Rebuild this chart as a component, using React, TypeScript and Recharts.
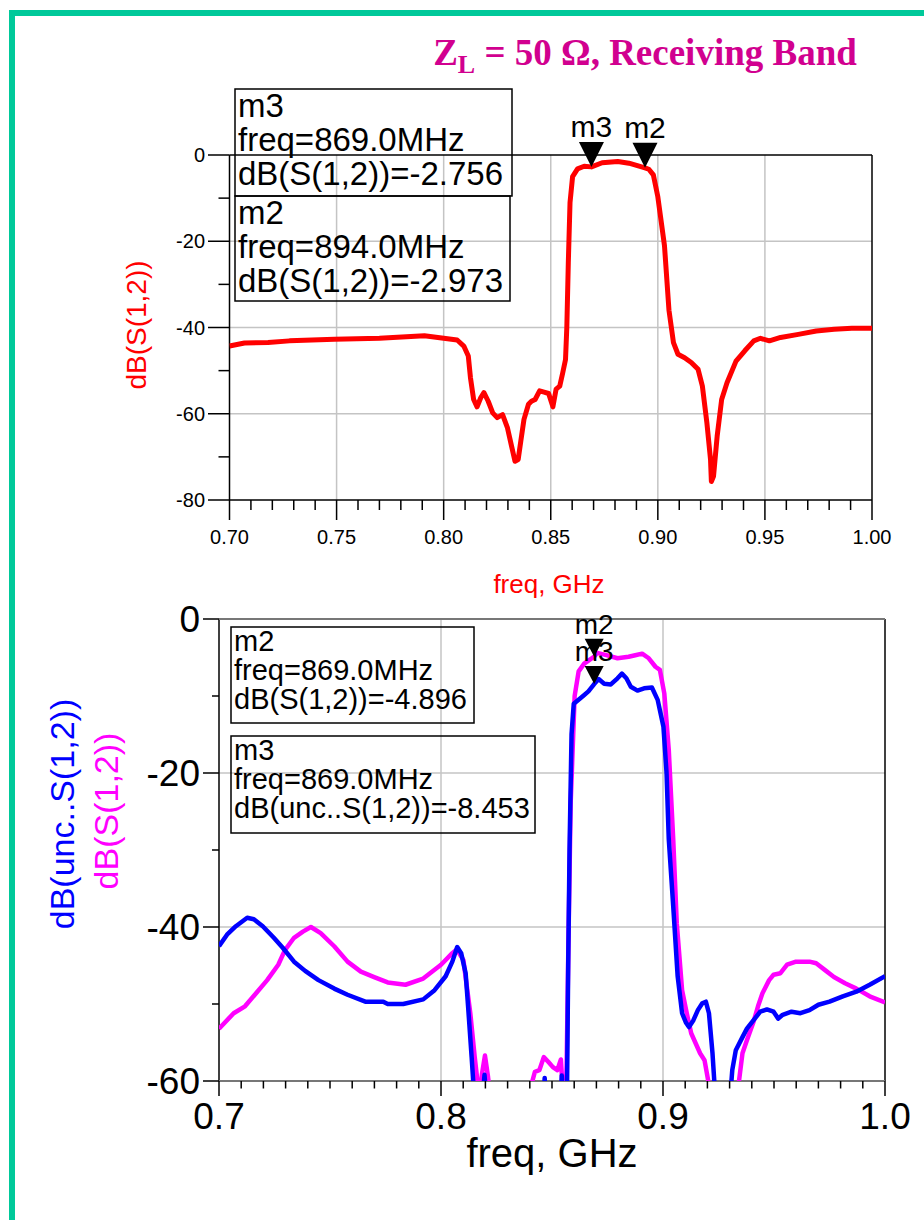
import React from 'react'
import { LineChart, Line, XAxis, YAxis, ReferenceLine, ReferenceDot } from 'recharts'

const FONT = '"Liberation Sans", Arial, sans-serif'
const SERIF = '"Liberation Serif", "Times New Roman", serif'

// upper panel: dB(S(1,2)), Z_L = 50 ohm
const TOP_FREQ = [
  0.7, 0.707, 0.718, 0.728, 0.749, 0.77, 0.791, 0.8, 0.8063, 0.8094, 0.8115, 0.8125, 0.814,
  0.8156, 0.8173, 0.8188, 0.8208, 0.8229, 0.825, 0.8275, 0.8298, 0.8317, 0.8333, 0.8348, 0.836,
  0.8375, 0.8396, 0.841, 0.8427, 0.8448, 0.8469, 0.849, 0.851, 0.8525, 0.8542, 0.8556, 0.8569,
  0.8575, 0.8582, 0.859, 0.8602, 0.8625, 0.8656, 0.869, 0.874, 0.8813, 0.8865, 0.894, 0.8958,
  0.8979, 0.9, 0.9031, 0.9052, 0.9073, 0.9094, 0.9125, 0.9156, 0.9188, 0.9208, 0.9229, 0.9246,
  0.925, 0.926, 0.9277, 0.9298, 0.9323, 0.9365, 0.9406, 0.9448, 0.9479, 0.9521, 0.9573, 0.9656,
  0.974, 0.9823, 0.9906, 1.0,
]
const TOP_DB = [
  -44.3, -43.6, -43.5, -43.1, -42.7, -42.5, -41.9, -42.5, -42.9, -44.3, -46.6, -51.6, -56.7,
  -58.4, -56.3, -55.1, -57.1, -59.8, -60.9, -60.2, -63.3, -67.5, -71.0, -70.6, -66.4,
  -61.3, -57.8, -57.1, -56.7, -54.7, -55.0, -55.3, -58.4, -54.3, -53.6, -50.5, -47.4,
  -40, -25, -11, -5, -3.2, -2.6, -2.756, -1.8, -1.5, -1.9, -2.973, -3.3,
  -4.6, -9.7, -21, -36, -43.5, -46.2, -47, -48.1, -49.7, -53.6, -62.1, -70.6,
  -75.7, -74.5, -65.2, -56.7, -52.8, -47.8, -45.4, -43.1, -42.5, -43.1, -42.3, -41.6,
  -40.8, -40.4, -40.2, -40.2,
]

// lower panel: dB(unc..S(1,2)) in blue
const BLUE_FREQ = [
  0.7, 0.7036, 0.7076, 0.7127, 0.7157, 0.7197, 0.7247, 0.7287, 0.7338, 0.7388, 0.7448, 0.7519,
  0.7579, 0.7659, 0.774, 0.776, 0.783, 0.792, 0.7971, 0.8021, 0.8051, 0.8073, 0.8091, 0.8111,
  0.8122, 0.8138, 0.8152, 0.8165, 0.8185, 0.8196, 0.8206, 0.8225, 0.838, 0.8455, 0.8467, 0.8478,
  0.852, 0.8536, 0.8544, 0.8552, 0.8562, 0.8568, 0.8573, 0.8579, 0.8588, 0.8598, 0.8644, 0.8664,
  0.869, 0.871, 0.8735, 0.8765, 0.8795, 0.8815, 0.8835, 0.8855, 0.8885, 0.8915, 0.895, 0.8976,
  0.9002, 0.9016, 0.9026, 0.9046, 0.9066, 0.9086, 0.9103, 0.9117, 0.9137, 0.9157, 0.9177, 0.9193,
  0.9207, 0.9223, 0.9231, 0.925, 0.929, 0.9303, 0.9312, 0.9328, 0.9358, 0.9378, 0.9408, 0.9438,
  0.9468, 0.9498, 0.9519, 0.9539, 0.9579, 0.9619, 0.966, 0.97, 0.975, 0.981, 0.9871, 0.9931, 1.0,
]
const BLUE_DB = [
  -42.5, -41, -39.9, -38.8, -39, -39.9, -41.4, -42.7, -44.5, -45.7, -46.9, -48,
  -48.8, -49.7, -49.7, -50, -50, -49.4, -48.2, -46.4, -44.5, -42.6, -43.4, -46,
  -50.3, -56.9, -63, -68, -63, -59.2, -63, -72, -75, -66, -59.6, -66,
  -72, -64, -59.3, -64, -68, -60, -45, -30, -15, -11, -9.9, -9.4,
  -8.453, -7.8, -8.4, -8.5, -7.7, -7.1, -7.7, -8.8, -9.3, -9.0, -8.9, -10.5,
  -14, -20, -28.6, -37.3, -46.4, -51.2, -52.4, -53, -52.1, -50.8, -49.9, -49.7,
  -51.2, -56.4, -60, -72, -72, -62, -58.6, -56, -54.3, -53.2, -52.1, -51,
  -50.7, -51, -51.9, -51.4, -51, -51.2, -50.8, -50.1, -49.7, -49, -48.4, -47.5, -46.4,
]

// lower panel: dB(S(1,2)) in magenta
const PINK_FREQ = [
  0.7, 0.7066, 0.7117, 0.7167, 0.7217, 0.7267, 0.7297, 0.7338, 0.7378, 0.7414, 0.7458, 0.7519,
  0.7579, 0.7639, 0.7699, 0.776, 0.784, 0.792, 0.8, 0.8051, 0.8071, 0.8101, 0.8132, 0.8152,
  0.8166, 0.8175, 0.8185, 0.8198, 0.8212, 0.8222, 0.824, 0.839, 0.8407, 0.8423, 0.8443, 0.8463,
  0.8483, 0.8504, 0.8524, 0.854, 0.8548, 0.8558, 0.8566, 0.8574, 0.8584, 0.8602, 0.862, 0.8645,
  0.8669, 0.869, 0.8704, 0.8745, 0.8795, 0.8845, 0.8875, 0.8906, 0.8936, 0.8966, 0.8986, 0.9006,
  0.9026, 0.9046, 0.9062, 0.9086, 0.9107, 0.9127, 0.9147, 0.9167, 0.9187, 0.9207, 0.922, 0.932,
  0.9338, 0.9358, 0.9378, 0.9408, 0.9428, 0.9448, 0.9478, 0.9498, 0.9529, 0.9559, 0.9599, 0.966,
  0.969, 0.973, 0.977, 0.982, 0.9871, 0.9931, 1.0,
]
const PINK_DB = [
  -53.2, -51.2, -50.3, -48.6, -46.9, -44.9, -43, -41.4, -40.6, -40.0, -40.8, -42.5,
  -44.5, -45.8, -46.5, -47.2, -47.5, -46.7, -44.9, -43.4, -42.9, -44.3, -51.2, -56.9,
  -60.5, -62, -59, -56.7, -59.5, -62, -72, -72, -60.5, -58.8, -58.6, -56.9,
  -57.5, -58.2, -58.6, -57.2, -61, -66, -58, -42, -24, -10, -6.8, -5.8,
  -5.3, -4.896, -4.4, -4.7, -5.1, -4.9, -4.7, -4.5, -5.1, -6.2, -6.6, -9.7,
  -17, -28.6, -39.5, -48.2, -51.2, -53.8, -55.1, -56.4, -57.3, -60.5, -70, -70,
  -61, -56.4, -54.7, -52.3, -50.3, -48.6, -46.9, -46.2, -46, -44.9, -44.5, -44.5,
  -44.7, -45.6, -46.5, -47.3, -48, -49, -49.8,
]

const TOP_X_MAJOR = [0.7, 0.75, 0.8, 0.85, 0.9, 0.95, 1.0]
const TOP_X_LABELS = ['0.70', '0.75', '0.80', '0.85', '0.90', '0.95', '1.00']
const TOP_Y_MAJOR = [0, -20, -40, -60, -80]
const TOP_Y_LABELS = ['0', '-20', '-40', '-60', '-80']
const BOT_X_MAJOR = [0.7, 0.8, 0.9, 1.0]
const BOT_X_LABELS = ['0.7', '0.8', '0.9', '1.0']
const BOT_Y_MAJOR = [0, -20, -40, -60]
const BOT_Y_LABELS = ['0', '-20', '-40', '-60']

const TOP_MARKERS = [
  { name: 'm3', f: 0.869, v: -2.756 },
  { name: 'm2', f: 0.894, v: -2.973 },
]
const BOT_MARKERS = [
  { name: 'm2', f: 0.869, v: -4.896 },
  { name: 'm3', f: 0.869, v: -8.453 },
]

const steps = (from: number, to: number, step: number) => {
  const n = Math.round((to - from) / step)
  return Array.from({ length: n + 1 }, (_, i) => Math.round((from + i * step) * 1000) / 1000)
}
const findMajor = (list: number[], v: number) => list.findIndex((m) => Math.abs(m - v) < 1e-6)

const zip = (fs: number[], vs: number[]) => fs.map((f, i) => ({ f, v: vs[i] }))
const topData = zip(TOP_FREQ, TOP_DB)
const blueData = zip(BLUE_FREQ, BLUE_DB)
const pinkData = zip(PINK_FREQ, PINK_DB)

function xTick(major: number[], labels: string[], big: number, small: number, off: number, size: number) {
  return (p: any) => {
    const i = findMajor(major, p.payload.value)
    return (
      <g>
        <line x1={p.x} x2={p.x} y1={p.y} y2={p.y + (i >= 0 ? big : small)} stroke="#000" strokeWidth={1.5} />
        {i >= 0 && (
          <text x={p.x} y={p.y + off} textAnchor="middle" fontSize={size} fontFamily={FONT} fill="#000">
            {labels[i]}
          </text>
        )}
      </g>
    )
  }
}

function yTick(major: number[], labels: string[], big: number, small: number, off: number, size: number) {
  return (p: any) => {
    const i = findMajor(major, p.payload.value)
    return (
      <g>
        <line x1={p.x - (i >= 0 ? big : small)} x2={p.x} y1={p.y} y2={p.y} stroke="#000" strokeWidth={1.5} />
        {i >= 0 && (
          <text x={p.x - off} y={p.y} textAnchor="end" dominantBaseline="central" fontSize={size} fontFamily={FONT} fill="#000">
            {labels[i]}
          </text>
        )}
      </g>
    )
  }
}

function markerShape(name: string, w: number, h: number, size: number) {
  return (p: any) => (
    <g>
      <polygon points={`${p.cx},${p.cy} ${p.cx - w / 2},${p.cy - h} ${p.cx + w / 2},${p.cy - h}`} fill="#000" />
      <text x={p.cx} y={p.cy - h - 5} textAnchor="middle" fontSize={size} fontFamily={FONT} fill="#000">
        {name}
      </text>
    </g>
  )
}

function TopChart() {
  return (
    <LineChart width={924} height={600} margin={{ top: 155, right: 52, bottom: 70, left: 169.5 }}>
      <XAxis
        type="number" dataKey="f" domain={[0.7, 1.0]} ticks={steps(0.7, 1.0, 0.01)} interval={0}
        tickSize={0} tickMargin={0} axisLine={false} tickLine={false} height={30} allowDataOverflow
        tick={xTick(TOP_X_MAJOR, TOP_X_LABELS, 20, 10, 44, 20)}
      />
      <YAxis
        type="number" dataKey="v" domain={[-80, 0]} ticks={steps(-80, 0, 10)} interval={0}
        tickSize={0} tickMargin={0} axisLine={false} tickLine={false} width={60} allowDataOverflow
        tick={yTick(TOP_Y_MAJOR, TOP_Y_LABELS, 21.5, 11, 24.5, 20)}
      />
      {[0.75, 0.8, 0.85, 0.9, 0.95].map((x) => (
        <ReferenceLine key={`gx${x}`} x={x} stroke="#c4c4c4" strokeWidth={1.5} />
      ))}
      {[-20, -40, -60].map((y) => (
        <ReferenceLine key={`gy${y}`} y={y} stroke="#c4c4c4" strokeWidth={1.5} />
      ))}
      <ReferenceLine x={0.7} stroke="#000" strokeWidth={1.5} />
      <ReferenceLine x={1.0} stroke="#000" strokeWidth={1.5} />
      <ReferenceLine y={0} stroke="#000" strokeWidth={1.5} />
      <ReferenceLine y={-80} stroke="#000" strokeWidth={1.5} />
      <Line
        data={topData} dataKey="v" type="linear" stroke="#ff0000" strokeWidth={5}
        dot={false} isAnimationActive={false} strokeLinejoin="round"
      />
      {TOP_MARKERS.map((m) => (
        <ReferenceDot key={m.name} x={m.f} y={m.v} ifOverflow="visible" shape={markerShape(m.name, 25, 25, 30)} />
      ))}
    </LineChart>
  )
}

function BottomChart() {
  return (
    <LineChart width={924} height={620} margin={{ top: 19, right: 39, bottom: 109, left: 159 }}>
      <XAxis
        type="number" dataKey="f" domain={[0.7, 1.0]} ticks={steps(0.7, 1.0, 0.01)} interval={0}
        tickSize={0} tickMargin={0} axisLine={false} tickLine={false} height={30} allowDataOverflow
        tick={xTick(BOT_X_MAJOR, BOT_X_LABELS, 15, 7.5, 48, 37)}
      />
      <YAxis
        type="number" dataKey="v" domain={[-60, 0]} ticks={steps(-60, 0, 10)} interval={0}
        tickSize={0} tickMargin={0} axisLine={false} tickLine={false} width={60} allowDataOverflow
        tick={yTick(BOT_Y_MAJOR, BOT_Y_LABELS, 16, 7, 19, 37)}
      />
      {[0.8, 0.9].map((x) => (
        <ReferenceLine key={`gx${x}`} x={x} stroke="#c4c4c4" strokeWidth={1.5} />
      ))}
      {[-20, -40].map((y) => (
        <ReferenceLine key={`gy${y}`} y={y} stroke="#c4c4c4" strokeWidth={1.5} />
      ))}
      <ReferenceLine x={0.7} stroke="#000" strokeWidth={1.5} />
      <ReferenceLine x={1.0} stroke="#000" strokeWidth={1.5} />
      <ReferenceLine y={0} stroke="#777" strokeWidth={2} />
      <ReferenceLine y={-60} stroke="#777" strokeWidth={2} />
      <Line
        data={pinkData} dataKey="v" type="linear" stroke="#ff00ff" strokeWidth={4.5}
        dot={false} isAnimationActive={false} strokeLinejoin="round"
      />
      <Line
        data={blueData} dataKey="v" type="linear" stroke="#0000ff" strokeWidth={4.5}
        dot={false} isAnimationActive={false} strokeLinejoin="round"
      />
      {BOT_MARKERS.map((m) => (
        <ReferenceDot key={m.name} x={m.f} y={m.v} ifOverflow="visible" shape={markerShape(m.name, 19, 18, 28)} />
      ))}
    </LineChart>
  )
}

function Readout({ x, y, w, h, lines, size, gap }: { x: number; y: number; w: number; h: number; lines: string[]; size: number; gap: number }) {
  return (
    <g>
      <rect x={x} y={y} width={w} height={h} fill="none" stroke="#000" strokeWidth={1.5} />
      {lines.map((t, i) => (
        <text key={i} x={x + 3} y={y + size * 0.84 + i * gap} fontSize={size} fontFamily={FONT} fill="#000">
          {t}
        </text>
      ))}
    </g>
  )
}

function Overlay() {
  return (
    <svg width={924} height={1220} style={{ position: 'absolute', left: 0, top: 0, pointerEvents: 'none' }}>
      <rect x={12} y={13} width={940} height={1240} fill="none" stroke="#00c99a" strokeWidth={6} />
      <text x={645} y={65} textAnchor="middle" fontFamily={SERIF} fontWeight="bold" fontSize={37} fill="#d1008f">
        Z<tspan fontSize={26} dy={8}>L</tspan>
        <tspan dy={-8}> = 50 Ω, Receiving Band</tspan>
      </text>

      <Readout x={235} y={89} w={277} h={107} size={33} gap={34} lines={['m3', 'freq=869.0MHz', 'dB(S(1,2))=-2.756']} />
      <Readout x={235} y={196} w={275} h={105} size={33} gap={34} lines={['m2', 'freq=894.0MHz', 'dB(S(1,2))=-2.973']} />

      <text transform="translate(136,325) rotate(-90)" textAnchor="middle" dominantBaseline="central" fontSize={28} fontFamily={FONT} fill="#ff0000">
        dB(S(1,2))
      </text>
      <text x={549} y={593} textAnchor="middle" fontSize={26} fontFamily={FONT} fill="#ff0000">
        freq, GHz
      </text>

      <Readout x={231} y={627} w={243} h={96} size={29} gap={29} lines={['m2', 'freq=869.0MHz', 'dB(S(1,2))=-4.896']} />
      <Readout x={231} y={736} w={304} h={97} size={29} gap={29} lines={['m3', 'freq=869.0MHz', 'dB(unc..S(1,2))=-8.453']} />

      <text transform="translate(62,814) rotate(-90)" textAnchor="middle" dominantBaseline="central" fontSize={34} fontFamily={FONT} fill="#0000ff">
        dB(unc..S(1,2))
      </text>
      <text transform="translate(106,811) rotate(-90)" textAnchor="middle" dominantBaseline="central" fontSize={34} fontFamily={FONT} fill="#ff00ff">
        dB(S(1,2))
      </text>
      <text x={552} y={1167} textAnchor="middle" fontSize={40} fontFamily={FONT} fill="#000">
        freq, GHz
      </text>
    </svg>
  )
}

export default function App() {
  return (
    <div style={{ position: 'absolute', left: 0, top: 0, width: 924, height: 1220, background: '#fff', overflow: 'hidden' }}>
      <div style={{ position: 'absolute', left: 0, top: 0 }}>
        <TopChart />
      </div>
      <div style={{ position: 'absolute', left: 0, top: 600 }}>
        <BottomChart />
      </div>
      <Overlay />
    </div>
  )
}
